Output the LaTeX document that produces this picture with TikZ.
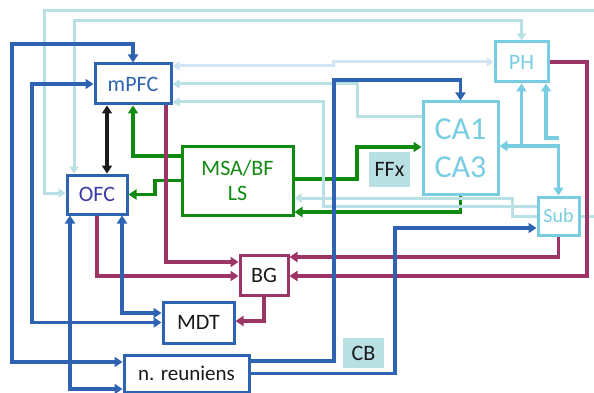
\documentclass[tikz,border=0pt]{standalone}
\usepackage{fontspec}
\setmainfont{Carlito}
\usetikzlibrary{arrows.meta}
\definecolor{dblue}{HTML}{2E63B1}
\definecolor{indigo}{HTML}{3B3BA6}
\definecolor{hippo}{HTML}{78CDE2}
\definecolor{teal}{HTML}{B9E0E4}
\definecolor{paleblue}{HTML}{D3E5F4}
\definecolor{leaf}{HTML}{128A12}
\definecolor{wine}{HTML}{9C3466}
\definecolor{ink}{HTML}{1A1A1A}
\definecolor{tag}{HTML}{B8DFE2}
\tikzset{
  >={Triangle[length=8pt,width=10pt]},
  box/.style={draw,line width=3pt,fill=white,align=center,inner sep=0pt,text=ink,font=\fontsize{22}{25}\selectfont},
  bluebox/.style={box,draw=dblue},
  hipbox/.style={box,draw=hippo,text=hippo},
  greenbox/.style={box,draw=leaf,text=leaf},
  winebox/.style={box,draw=wine},
  tagbox/.style={fill=tag,inner sep=0pt,text=ink,font=\fontsize{22}{25}\selectfont},
  link/.style={line width=3.5pt},
  bluearr/.style={link,draw=dblue},
  greenarr/.style={link,draw=leaf},
  winearr/.style={link,draw=wine},
  blackarr/.style={link,draw=ink},
  hiparr/.style={link,draw=hippo},
  tealarr/.style={line width=3pt,draw=teal,>={Triangle[length=7pt,width=9pt]}},
  palearr/.style={tealarr,draw=paleblue},
}
\begin{document}
\begin{tikzpicture}[x=1pt,y=-1pt]
\path[use as bounding box] (0,0) rectangle (594,393);
\clip (0,0) rectangle (594,393);

% regions
\node[bluebox,text=dblue,minimum width=76,minimum height=40] (mPFC) at (133,84) {mPFC};
\node[bluebox,text=indigo,minimum width=60,minimum height=39] (OFC) at (97,194.5) {OFC};
\node[greenbox,minimum width=111,minimum height=69] (MSA) at (237.5,180.5) {MSA/BF\\LS};
\node[hipbox,minimum width=75,minimum height=92,font=\fontsize{32}{38}\selectfont] (CA) at (460.5,148) {CA1\\CA3};
\node[hipbox,minimum width=53,minimum height=40] (PH) at (521.5,62) {PH};
\node[hipbox,minimum width=41,minimum height=38,font=\fontsize{20}{24}\selectfont] (Sub) at (558.5,216) {Sub};
\node[winebox,minimum width=48,minimum height=40] (BG) at (264,275) {BG};
\node[bluebox,minimum width=71,minimum height=41] (MDT) at (198.5,322.5) {MDT};
\node[bluebox,minimum width=125,minimum height=37,font=\fontsize{21}{25}\selectfont] (NR) at (186.5,373.5) {n. reuniens};
\node[tagbox,minimum width=41,minimum height=35] (FFx) at (389.5,169.5) {FFx};
\node[tagbox,minimum width=41,minimum height=30] (CB) at (363.5,353) {CB};

% green
\draw[greenarr,->] (MSA.west |- 0,156) -| (mPFC.south);
\draw[greenarr,->] (MSA.west) -- (155,0 |- MSA.west) |- (OFC.east);
\draw[greenarr,->] (MSA.east |- 0,179) -| (357,147) -- (CA.west |- 0,147);
\draw[greenarr,->] (CA.south) |- (MSA.east |- 0,212);

% light lines
\draw[tealarr,->] (Sub.east) -- (600,0 |- Sub.east) -- (600,11) -| (44,193) -- (OFC.west |- 0,193);
\draw[tealarr,<->] (74,0 |- OFC.north) |- (PH.north |- 0,21) -- (PH.north);
\draw[palearr,<->] (PH.west) -- (333,0 |- PH.west) -- (333,66) -- (mPFC.east |- 0,66);
\draw[tealarr,->] (CA.west |- 0,117) -| (357,84) -- (mPFC.east);
\draw[tealarr,->] (Sub.west |- 0,206) -| (323,102) -- (mPFC.east |- 0,102);
\draw[tealarr,->] (Sub.west) -| (512,198) -- (MSA.east |- 0,198);

% wine
\draw[winearr,->] (166,0 |- mPFC.south) |- (BG.west |- 0,262);
\draw[winearr,->] (OFC.south) |- (BG.west |- 0,276);
\draw[winearr,->] (BG.south) |- (MDT.east |- 0,321);
\draw[winearr,->] (Sub.south) |- (BG.east |- 0,257);
\draw[winearr,->] (PH.east) -| (587,276) -- (BG.east |- 0,276);

% blue
\draw[bluearr,<->] (NR.west |- 0,362) -| (12,44) -| (mPFC.north);
\draw[bluearr,<->] (MDT.west) -| (32,84) -- (mPFC.west);
\draw[bluearr,<->] (122,0 |- OFC.south) |- (MDT.west |- 0,313);
\draw[bluearr,<->] (70,0 |- OFC.south) |- (NR.west |- 0,389);
\draw[bluearr,->] (NR.east |- 0,361) -| (334,80) -| (CA.north);
\draw[bluearr,->] (NR.east) -| (395,228) -- (Sub.west |- 0,228);
\draw[blackarr,<->] (107,0 |- mPFC.south) -- (107,0 |- OFC.north);

% hippocampal loop
\draw[hiparr,<->] (CA.east |- 0,146) -| (Sub.north);
\draw[hiparr,->] (PH.south |- 0,146) -- (PH.south);
\draw[hiparr,->] (Sub.north |- 0,138) -| (546,0 |- PH.south);

\end{tikzpicture}
\end{document}
